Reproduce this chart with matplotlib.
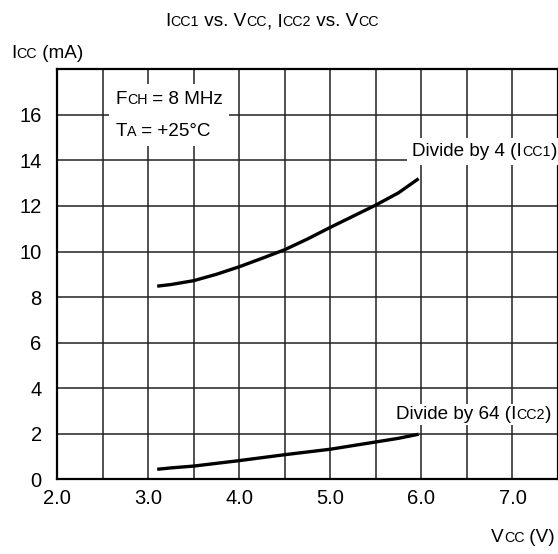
import matplotlib
matplotlib.use('Agg')
import matplotlib.pyplot as plt
from matplotlib.offsetbox import TextArea, HPacker, VPacker, AnnotationBbox

# --- data ---
vcc = [3.1, 3.25, 3.5, 3.75, 4.0, 4.25, 4.5, 4.75, 5.0, 5.25, 5.5, 5.75, 5.97]
icc1 = [8.48, 8.55, 8.72, 9.0, 9.33, 9.7, 10.08, 10.55, 11.06, 11.55, 12.04, 12.58, 13.2]
icc2 = [0.44, 0.5, 0.58, 0.7, 0.82, 0.95, 1.08, 1.2, 1.32, 1.48, 1.64, 1.8, 1.98]

x_ticks = [2.0, 3.0, 4.0, 5.0, 6.0, 7.0]
y_ticks = [0, 2, 4, 6, 8, 10, 12, 14, 16]

FONT = 'Liberation Sans'
TICK = 14.5
BIG = 13.6
SMALL = 10.3


def rich(parts, size=BIG):
    # parts: list of (text, is_big); small parts sit on the baseline
    boxes = [TextArea(t, textprops=dict(fontsize=size if big else SMALL, family=FONT))
             for t, big in parts]
    return HPacker(children=boxes, align='baseline', pad=0, sep=0)


def place(ax, packer, xy, coords='data', align=(0, 0.5), frame=False, pad=0.3):
    ab = AnnotationBbox(packer, xy, xycoords=coords, box_alignment=align,
                        frameon=frame, pad=pad,
                        bboxprops=dict(fc='white', ec='none'), zorder=4)
    ax.add_artist(ab)


fig = plt.figure(figsize=(5.58, 5.54), dpi=100)
ax = fig.add_axes([57 / 558, 74.7 / 554, 501 / 558, 410 / 554])

ax.plot(vcc, icc1, color='black', lw=2.4, zorder=3, solid_capstyle='butt')
ax.plot(vcc, icc2, color='black', lw=2.4, zorder=3, solid_capstyle='butt')

grid_x = [2.0 + 0.5 * i for i in range(12)]
ax.set_xlim(2.0, 7.5)
ax.set_ylim(0, 18)
ax.set_xticks(grid_x)
ax.set_xticklabels([f'{v:.1f}' if v in x_ticks else '' for v in grid_x])
ax.set_yticks(list(range(0, 19, 2)))
ax.set_yticklabels([str(v) if v in y_ticks else '' for v in range(0, 19, 2)])
ax.grid(True, color='#222222', lw=1.1, zorder=1)
ax.tick_params(length=0, labelsize=TICK)
ax.tick_params(axis='y', pad=11)
ax.tick_params(axis='x', pad=7)
for lab in ax.get_xticklabels() + ax.get_yticklabels():
    lab.set_family(FONT)
for s in ax.spines.values():
    s.set_linewidth(1.6)
    s.set_color('black')
ax.set_axisbelow(True)

# annotations inside the grid
cond = VPacker(children=[rich([('F', True), ('CH', False), (' = 8 MHz', True)]),
                         rich([('T', True), ('A', False), (' = +25°C', True)])],
               align='left', pad=0, sep=11)
place(ax, cond, (2.64, 15.98), align=(0, 0.5), frame=True, pad=0.45)

place(ax, rich([('Divide by 4 (I', True), ('CC1', False), (')', True)]),
      (5.9, 14.4), align=(0, 0.5), frame=True, pad=0.35)
place(ax, rich([('Divide by 64 (I', True), ('CC2', False), (')', True)]),
      (5.72, 2.83), align=(0, 0.5), frame=True, pad=0.15)

# title and axis labels
place(ax, rich([('I', True), ('CC1', False), (' vs. V', True), ('CC', False),
                (', I', True), ('CC2', False), (' vs. V', True), ('CC', False)]),
      (272, 532), coords='figure pixels', align=(0.5, 0.5))
place(ax, rich([('I', True), ('CC', False), (' (mA)', True)]),
      (11, 501), coords='figure pixels', align=(0, 0.5))
place(ax, rich([('V', True), ('CC', False), (' (V)', True)]),
      (555, 17), coords='figure pixels', align=(1, 0.5))

fig.savefig('out.png', dpi=100)
